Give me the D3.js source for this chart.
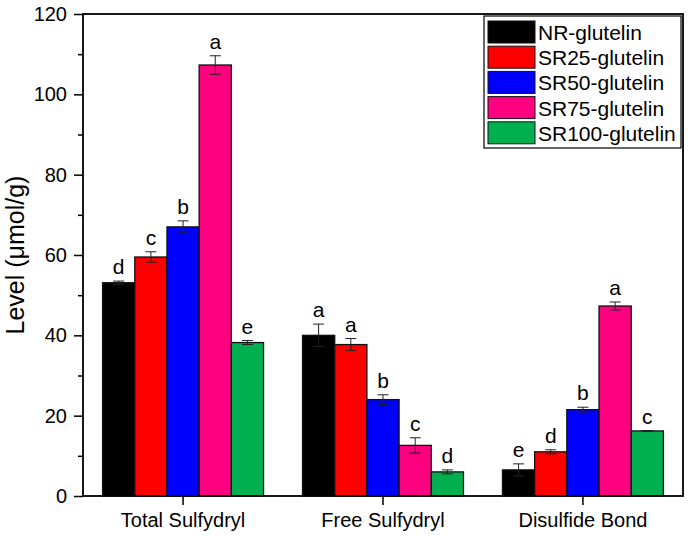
<!DOCTYPE html>
<html><head><meta charset="utf-8">
<script src="https://cdn.jsdelivr.net/npm/d3@7"></script>
<style>body{margin:0;background:#fff}svg{display:block}text{font-family:"Liberation Sans",Arial,sans-serif}</style>
</head><body><div id="chart"></div>
<script>
const categories = ["Total Sulfydryl", "Free Sulfydryl", "Disulfide Bond"];
const seriesNames = ["NR-glutelin", "SR25-glutelin", "SR50-glutelin", "SR75-glutelin", "SR100-glutelin"];
const seriesColors = ["#000000", "#FF0000", "#0000FF", "#FF0080", "#00B050"];
const NR = [53.1, 40.0, 6.5];
const SR25 = [59.5, 37.7, 11.0];
const SR50 = [67.0, 24.0, 21.5];
const SR75 = [107.3, 12.6, 47.3];
const SR100 = [38.2, 6.0, 16.2];
const NR_err = [0.4, 2.8, 1.5];
const SR25_err = [1.3, 1.5, 0.5];
const SR50_err = [1.5, 1.2, 0.6];
const SR75_err = [2.3, 1.9, 1.0];
const SR100_err = [0.5, 0.5, 0.1];
const NR_sig = ["d", "a", "e"];
const SR25_sig = ["c", "a", "d"];
const SR50_sig = ["b", "b", "b"];
const SR75_sig = ["a", "c", "a"];
const SR100_sig = ["e", "d", "c"];
const yTicks = [0, 20, 40, 60, 80, 100, 120];
const yMinorTicks = [10, 30, 50, 70, 90, 110];

const values = [NR, SR25, SR50, SR75, SR100];
const errs = [NR_err, SR25_err, SR50_err, SR75_err, SR100_err];
const sigs = [NR_sig, SR25_sig, SR50_sig, SR75_sig, SR100_sig];

const W = 691, H = 537;
const m = {left: 83, right: 8, top: 14, bottom: 41};
const svg = d3.select("#chart").append("svg").attr("width", W).attr("height", H);
const x0 = d3.scaleBand().domain(categories).range([m.left, W - m.right]).paddingInner(0.195).paddingOuter(0.098);
const x1 = d3.scaleBand().domain(seriesNames).range([0, x0.bandwidth()]);
const y = d3.scaleLinear().domain([0, 120]).range([H - m.bottom, m.top]);

// bars
categories.forEach((c, ci) => {
  seriesNames.forEach((s, si) => {
    const v = values[si][ci], e = errs[si][ci];
    const bx = x0(c) + x1(s);
    svg.append("rect").attr("x", bx).attr("y", y(v)).attr("width", x1.bandwidth()).attr("height", y(0) - y(v))
      .attr("fill", seriesColors[si]).attr("stroke", "#111").attr("stroke-width", 1.3);
    const cx = bx + x1.bandwidth() / 2;
    const g = svg.append("g").attr("stroke", "#222").attr("stroke-width", 1);
    g.append("line").attr("x1", cx).attr("x2", cx).attr("y1", y(v + e)).attr("y2", y(v - e));
    g.append("line").attr("x1", cx - 5.5).attr("x2", cx + 5.5).attr("y1", y(v + e)).attr("y2", y(v + e));
    g.append("line").attr("x1", cx - 5.5).attr("x2", cx + 5.5).attr("y1", y(v - e)).attr("y2", y(v - e));
    svg.append("text").attr("x", cx).attr("y", y(v + e) - 7).attr("text-anchor", "middle")
      .attr("font-size", 21).attr("fill", "#000").text(sigs[si][ci]);
  });
});

// axes
const yAxis = d3.axisLeft(y).tickValues(yTicks).tickSize(9).tickPadding(7);
const gy = svg.append("g").attr("transform", `translate(${m.left},0)`).call(yAxis);
gy.selectAll("text").attr("font-size", 20).attr("fill", "#000");
gy.selectAll("line,path").attr("stroke", "#000").attr("stroke-width", 1.5);
gy.select(".domain").remove();
const gym = svg.append("g").attr("transform", `translate(${m.left},0)`).call(d3.axisLeft(y).tickValues(yMinorTicks).tickSize(5).tickFormat(""));
gym.select(".domain").remove();
gym.selectAll("line").attr("stroke", "#000").attr("stroke-width", 1.5);

const xAxis = d3.axisBottom(x0).tickSize(9).tickPadding(8);
const gx = svg.append("g").attr("transform", `translate(0,${H - m.bottom})`).call(xAxis);
gx.select(".domain").remove();
gx.selectAll("line").attr("stroke", "#000").attr("stroke-width", 1.5);
gx.selectAll("text").attr("font-size", 20).attr("fill", "#000");

// frame
svg.append("rect").attr("x", m.left).attr("y", m.top).attr("width", W - m.left - m.right).attr("height", H - m.top - m.bottom)
  .attr("fill", "none").attr("stroke", "#000").attr("stroke-width", 1.8);

// y label
svg.append("text").attr("transform", `translate(24,${(m.top + H - m.bottom) / 2}) rotate(-90)`)
  .attr("text-anchor", "middle").attr("font-size", 25).attr("fill", "#000").text("Level (μmol/g)");

// legend
const lg = svg.append("g");
lg.append("rect").attr("x", 484).attr("y", 16).attr("width", 197).attr("height", 132).attr("fill", "#fff").attr("stroke", "#000").attr("stroke-width", 1.2);
seriesNames.forEach((s, i) => {
  const yy = 21 + i * 25.2;
  lg.append("rect").attr("x", 488).attr("y", yy).attr("width", 47).attr("height", 22).attr("fill", seriesColors[i]).attr("stroke", "#111").attr("stroke-width", 1);
  lg.append("text").attr("x", 538).attr("y", yy + 19).attr("font-size", 21).attr("fill", "#000").text(s);
});
</script></body></html>
